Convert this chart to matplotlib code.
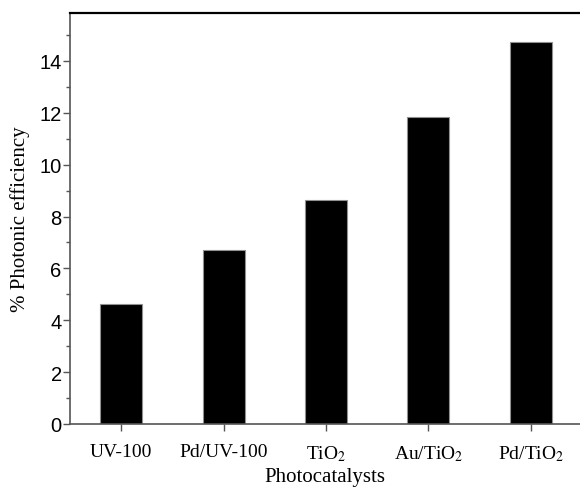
import matplotlib
matplotlib.use("Agg")
import matplotlib.pyplot as plt
from matplotlib.ticker import MultipleLocator

plt.rcParams['mathtext.fontset'] = 'stix'

# data
catalysts = ['UV-100', 'Pd/UV-100', 'TiO$_2$', 'Au/TiO$_2$', 'Pd/TiO$_2$']
efficiency = [4.63, 6.72, 8.62, 11.83, 14.74]

fig = plt.figure(figsize=(5.8, 4.89), dpi=100)
ax = fig.add_axes([0.1207, 0.1309, 0.8793, 0.8405])

x = list(range(len(catalysts)))
ax.bar(x, efficiency, width=0.41, color='black', edgecolor='#909090', linewidth=0.8)

ax.set_xlim(-0.5, 4.48)
ax.set_ylim(0, 15.85)

ax.spines['right'].set_visible(False)
for s in ['left', 'bottom']:
    ax.spines[s].set_color('#555555')
    ax.spines[s].set_linewidth(1.2)
ax.spines['top'].set_linewidth(1.6)

ax.set_xticks(x)
ax.set_xticklabels(catalysts, family='Liberation Serif', fontsize=14)
ax.yaxis.set_major_locator(MultipleLocator(2))
ax.yaxis.set_minor_locator(MultipleLocator(1))
for lab in ax.get_yticklabels():
    lab.set_family('Liberation Sans')
ax.tick_params(axis='y', which='major', labelsize=14.5, length=5, width=1, color='#555555', pad=1)
ax.tick_params(axis='y', which='minor', length=3, width=1, color='#555555')
ax.tick_params(axis='x', length=5, width=1, color='#555555', pad=9)

ax.set_ylabel('% Photonic efficiency', family='Liberation Serif', fontsize=15, labelpad=7)
ax.set_xlabel('Photocatalysts', family='Liberation Serif', fontsize=15, labelpad=3)

fig.savefig('out.png', dpi=100)
